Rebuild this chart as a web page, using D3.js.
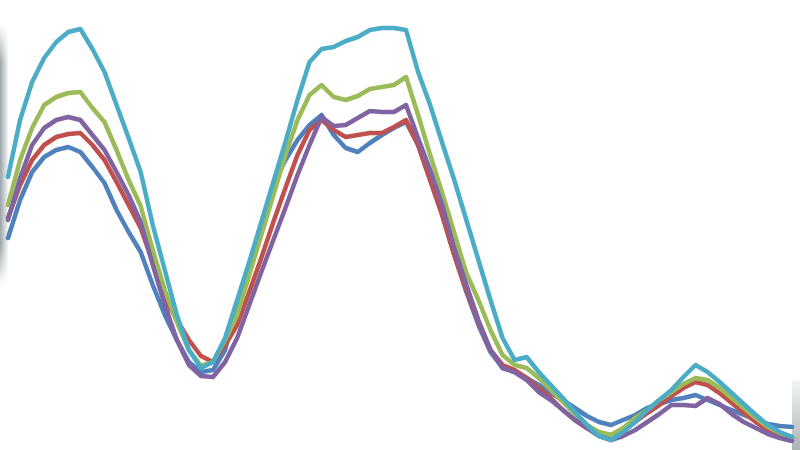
<!DOCTYPE html>
<html>
<head>
<meta charset="utf-8">
<script src="https://cdn.jsdelivr.net/npm/d3@7"></script>
<style>
  html, body { margin: 0; padding: 0; background: #fff; }
  svg { display: block; }
</style>
</head>
<body>
<svg id="chart" width="800" height="450"></svg>
<script>
// Series values (higher = lower on screen, 0..450 scale inverted)
const seriesNames = ["Series 1", "Series 2", "Series 3", "Series 4", "Series 5"];
const series1 = [238,200,172,157,150,147,152,167,183,210,232,252,285,315,340,362,372,370,350,305,265,225,185,160,140,125,115,135,148,152,143,135,128,122,145,180,215,255,292,325,352,368,372,378,385,393,400,408,416,422,425,420,415,408,404,400,398,395,400,405,410,415,420,424,426,427];
const series2 = [218,185,160,145,137,134,133,145,160,182,205,228,262,298,320,340,356,362,345,325,292,258,222,188,155,130,120,130,137,135,133,133,127,120,145,180,215,255,290,322,350,365,370,378,388,398,410,420,428,434,435,430,422,413,405,396,388,382,385,393,403,413,422,430,435,438];
const series3 = [205,160,128,105,97,93,92,108,122,150,180,206,250,290,322,350,366,362,340,315,275,235,195,155,120,95,85,97,100,96,89,87,85,77,115,155,193,233,273,300,330,355,365,368,378,390,402,414,425,432,435,428,418,410,400,392,384,378,380,388,398,408,418,427,433,437];
const series4 = [220,178,145,128,120,117,120,135,150,172,195,222,265,305,340,365,376,377,362,338,305,272,240,208,175,145,117,126,125,118,111,112,112,105,138,170,205,248,285,320,350,368,372,380,392,400,410,420,428,436,440,436,430,422,414,405,405,406,398,404,414,422,428,434,438,441];
const series5 = [177,120,82,58,42,32,29,49,72,105,138,172,225,270,315,350,368,362,338,300,262,222,182,142,100,62,49,47,41,37,30,28,28,30,72,105,143,180,220,260,300,338,360,357,372,385,398,412,425,436,440,432,422,410,400,390,377,365,372,382,393,404,415,425,432,437];
const categories = d3.range(series1.length);

const colors = ["#4F81BD", "#C0504D", "#9BBB59", "#8064A2", "#4BACC6"];
const allSeries = [series1, series2, series3, series4, series5];

const svg = d3.select("#chart");

// decorative edge shading seen in the picture
const defs = svg.append("defs");
const gl = defs.append("linearGradient").attr("id", "gl").attr("x1", 0).attr("x2", 1);
gl.append("stop").attr("offset", "0%").attr("stop-color", "#9aa3a8");
gl.append("stop").attr("offset", "100%").attr("stop-color", "#f4f6f7");
const glv = defs.append("linearGradient").attr("id", "glv").attr("x1", 0).attr("x2", 0).attr("y1", 0).attr("y2", 1);
glv.append("stop").attr("offset", "0%").attr("stop-color", "#fff").attr("stop-opacity", 1);
glv.append("stop").attr("offset", "15%").attr("stop-color", "#fff").attr("stop-opacity", 0);
glv.append("stop").attr("offset", "85%").attr("stop-color", "#fff").attr("stop-opacity", 0);
glv.append("stop").attr("offset", "100%").attr("stop-color", "#fff").attr("stop-opacity", 1);
svg.append("rect").attr("x", 0).attr("y", 25).attr("width", 8).attr("height", 260).attr("fill", "url(#gl)");
svg.append("rect").attr("x", 0).attr("y", 25).attr("width", 8).attr("height", 260).attr("fill", "url(#glv)");
const gr = defs.append("linearGradient").attr("id", "gr").attr("x1", 0).attr("x2", 0).attr("y1", 0).attr("y2", 1);
gr.append("stop").attr("offset", "0%").attr("stop-color", "#f4f6f7");
gr.append("stop").attr("offset", "100%").attr("stop-color", "#aab2b6");
svg.append("rect").attr("x", 792).attr("y", 380).attr("width", 8).attr("height", 70).attr("fill", "url(#gr)");

const x = d3.scaleLinear().domain([0, categories.length - 1]).range([8, 792]);
const y = d3.scaleLinear().domain([0, 450]).range([0, 450]);

const line = d3.line()
  .x((d, i) => x(categories[i]))
  .y(d => y(d));

svg.append("g").selectAll("path")
  .data(allSeries)
  .join("path")
  .attr("d", d => line(d))
  .attr("fill", "none")
  .attr("stroke", (d, i) => colors[i])
  .attr("stroke-width", 4.5)
  .attr("stroke-linejoin", "round")
  .attr("stroke-linecap", "round");
</script>
</body>
</html>
